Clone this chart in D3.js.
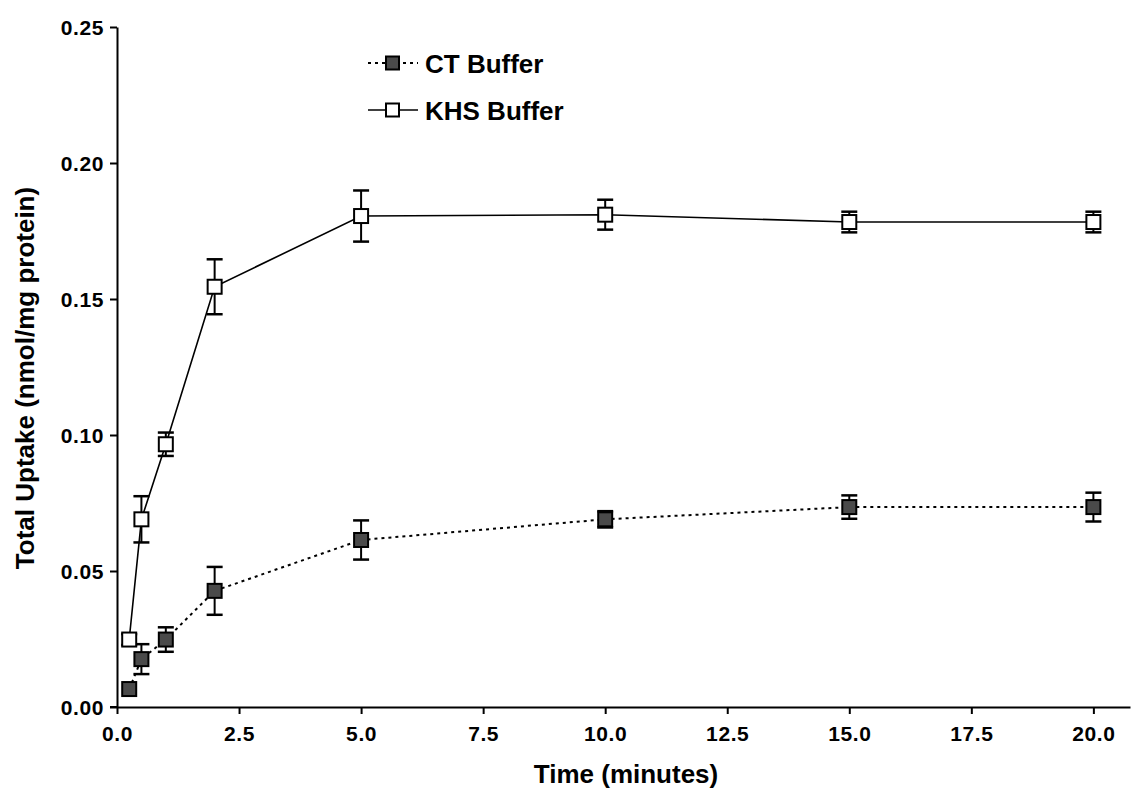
<!DOCTYPE html>
<html>
<head>
<meta charset="utf-8">
<script src="https://cdn.jsdelivr.net/npm/d3@7"></script>
<style>
  body { margin: 0; background: #fff; }
  svg { display: block; font-family: Arial, "Liberation Sans", sans-serif; }
</style>
</head>
<body>
<div id="chart"></div>
<script>
// time points (minutes)
const times = [0.25, 0.5, 1, 2, 5, 10, 15, 20];

// CT buffer (filled squares, dotted line)
const ctMean = [0.0066, 0.0176, 0.0248, 0.0427, 0.0614, 0.069, 0.0735, 0.0735];
const ctErr  = [0, 0.0055, 0.0045, 0.0088, 0.0072, 0.003, 0.0043, 0.0053];

// KHS buffer (open squares, solid line)
const khsMean = [0.0248, 0.069, 0.0966, 0.1545, 0.1805, 0.181, 0.1783, 0.1783];
const khsErr  = [0.002, 0.0085, 0.0043, 0.0101, 0.0094, 0.0055, 0.0038, 0.0038];

const xTicks = [0, 2.5, 5, 7.5, 10, 12.5, 15, 17.5, 20];
const yTicks = [0, 0.05, 0.10, 0.15, 0.20, 0.25];

const seriesNames = ["CT Buffer", "KHS Buffer"];

const width = 1134, height = 791;
const svg = d3.select("#chart").append("svg")
    .attr("width", width)
    .attr("height", height);

const x = d3.scaleLinear().domain([0, 20.75]).range([117, 1130]);
const y = d3.scaleLinear().domain([0, 0.25]).range([707, 27]);

const series = [
  { name: seriesNames[0], mean: ctMean, err: ctErr, fill: "#4a4a4a", dash: "3,4" },
  { name: seriesNames[1], mean: khsMean, err: khsErr, fill: "#fff", dash: null }
];

// axes
const xAxis = svg.append("g")
    .attr("transform", `translate(0,${y(0)})`)
    .call(d3.axisBottom(x).tickValues(xTicks).tickFormat(d3.format(".1f")).tickSize(7).tickSizeOuter(0));
const yAxis = svg.append("g")
    .attr("transform", `translate(${x(0)},0)`)
    .call(d3.axisLeft(y).tickValues(yTicks).tickFormat(d3.format(".2f")).tickSize(7).tickSizeOuter(0));

[xAxis, yAxis].forEach(g => {
  g.select(".domain").attr("stroke", "#000").attr("stroke-width", 2);
  g.selectAll(".tick line").attr("stroke", "#000").attr("stroke-width", 2);
  g.selectAll(".tick text")
      .attr("fill", "#000")
      .style("font-size", "21px")
      .style("font-weight", "bold")
      .style("letter-spacing", "0.6px");
});
// extend x-axis line to the left of y axis
xAxis.append("line").attr("x1", x(0) - 7).attr("x2", x(0)).attr("stroke", "#000").attr("stroke-width", 2);
xAxis.selectAll(".tick text").attr("y", 19).attr("dy", "0.71em");
yAxis.selectAll(".tick text").attr("x", -13).attr("dy", "0.36em");

// axis titles
svg.append("text")
    .attr("x", 626).attr("y", 783)
    .attr("text-anchor", "middle")
    .style("font-size", "26px").style("font-weight", "bold")
    .text("Time (minutes)");
svg.append("text")
    .attr("transform", "translate(34,378) rotate(-90)")
    .attr("text-anchor", "middle")
    .style("font-size", "26px").style("font-weight", "bold")
    .text("Total Uptake (nmol/mg protein)");

const line = d3.line().x(d => x(d[0])).y(d => y(d[1]));
const sq = 14, cap = 8;

series.forEach(s => {
  const pts = times.map((t, i) => [t, s.mean[i], s.err[i]]);
  const g = svg.append("g");

  g.append("path")
      .datum(pts)
      .attr("d", line)
      .attr("fill", "none")
      .attr("stroke", "#000")
      .attr("stroke-width", s.dash ? 2 : 1.6)
      .attr("stroke-dasharray", s.dash);

  const eb = g.selectAll(".eb").data(pts.filter(d => d[2] > 0)).enter().append("g");
  eb.append("line")
      .attr("x1", d => x(d[0])).attr("x2", d => x(d[0]))
      .attr("y1", d => y(d[1] + d[2])).attr("y2", d => y(d[1] - d[2]))
      .attr("stroke", "#000").attr("stroke-width", 2);
  [1, -1].forEach(sgn => {
    eb.append("line")
        .attr("x1", d => x(d[0]) - cap).attr("x2", d => x(d[0]) + cap)
        .attr("y1", d => y(d[1] + sgn * d[2])).attr("y2", d => y(d[1] + sgn * d[2]))
        .attr("stroke", "#000").attr("stroke-width", 2.5);
  });

  g.selectAll("rect").data(pts).enter().append("rect")
      .attr("x", d => x(d[0]) - sq / 2)
      .attr("y", d => y(d[1]) - sq / 2)
      .attr("width", sq).attr("height", sq)
      .attr("fill", s.fill)
      .attr("stroke", "#000").attr("stroke-width", 2);
});

// legend
const legend = svg.append("g");
series.forEach((s, i) => {
  const ly = 63 + i * 47;
  const lg = legend.append("g");
  lg.append("line")
      .attr("x1", 368).attr("x2", 418).attr("y1", ly).attr("y2", ly)
      .attr("stroke", "#000").attr("stroke-width", s.dash ? 2 : 1.6)
      .attr("stroke-dasharray", s.dash);
  lg.append("rect")
      .attr("x", 386).attr("y", ly - 6.5)
      .attr("width", 13).attr("height", 13)
      .attr("fill", s.fill).attr("stroke", "#000").attr("stroke-width", 2);
  lg.append("text")
      .attr("x", 425).attr("y", ly + 10)
      .style("font-size", "26px").style("font-weight", "bold")
      .text(s.name);
});
</script>
</body>
</html>
